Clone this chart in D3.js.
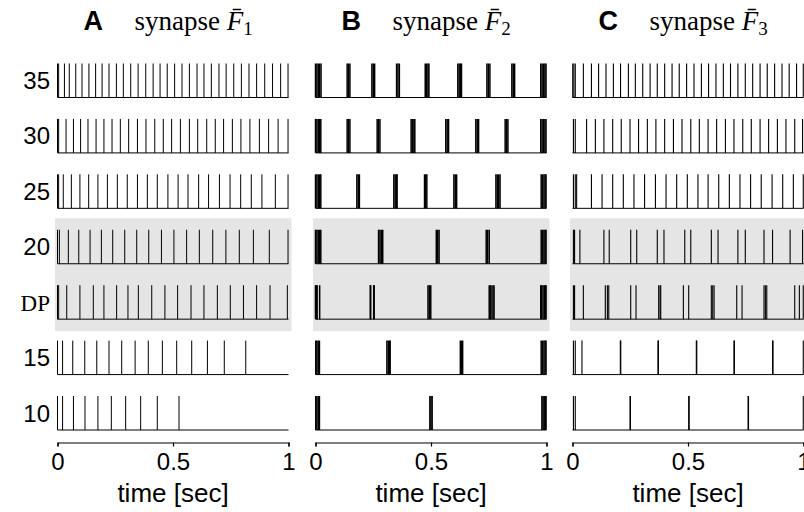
<!DOCTYPE html>
<html><head><meta charset="utf-8">
<script src="https://cdn.jsdelivr.net/npm/d3@7"></script>
<style>body{margin:0;background:#fff}svg{display:block}</style>
</head><body>
<svg id="c" width="804" height="512"></svg>
<script>
// ---------------- data ----------------
const rows = ["35","30","25","20","DP","15","10"];
const shadedRows = ["20","DP"];
const panelLetters = ["A","B","C"];
const synapseSubs = ["1","2","3"];
const tickValues = [0, 0.5, 1];
const tickLabels = ["0","0.5","1"];
const xLabel = "time [sec]";

// spike times [sec], synapse F1
const spikesA35 = [0,0.005,0.030,0.051,0.079,0.106,0.136,0.165,0.193,0.223,0.255,0.285,0.317,0.349,0.382,0.414,0.444,0.475,0.507,0.539,0.571,0.604,0.634,0.666,0.699,0.730,0.763,0.796,0.829,0.862,0.897,0.931,0.966,0.998];
const spikesA30 = [0,0.005,0.037,0.069,0.100,0.132,0.167,0.201,0.236,0.272,0.308,0.346,0.383,0.421,0.458,0.494,0.532,0.571,0.607,0.646,0.683,0.719,0.757,0.794,0.833,0.874,0.914,0.955,0.998];
const spikesA25 = [0,0.005,0.025,0.060,0.097,0.135,0.175,0.216,0.259,0.302,0.346,0.389,0.432,0.478,0.522,0.565,0.611,0.654,0.701,0.747,0.793,0.839,0.885,0.943,0.998];
const spikesA20 = [0,0.008,0.047,0.092,0.141,0.190,0.239,0.291,0.343,0.395,0.450,0.504,0.559,0.614,0.672,0.729,0.787,0.848,0.917,0.998];
const spikesADP = [0,0.005,0.040,0.097,0.155,0.201,0.256,0.305,0.350,0.408,0.465,0.520,0.578,0.634,0.692,0.748,0.805,0.862,0.920,0.995];
const spikesA15 = [0,0.022,0.066,0.118,0.170,0.223,0.278,0.336,0.393,0.454,0.516,0.581,0.649,0.722,0.815];
const spikesA10 = [0,0.022,0.069,0.119,0.175,0.233,0.295,0.360,0.432,0.526];

// synapse F2 (bursting)
const spikesB35 = [0,0.006,0.012,0.018,0.024, 0.137,0.143,0.149, 0.244,0.250,0.256, 0.351,0.357,0.363, 0.475,0.481,0.487,0.491, 0.616,0.622,0.628,0.632, 0.742,0.748,0.755, 0.850,0.856,0.862, 0.975,0.981,0.987,0.993,0.998];
const spikesB30 = [0,0.006,0.012,0.018,0.023, 0.137,0.143,0.149, 0.267,0.273,0.279, 0.414,0.420,0.426,0.430, 0.564,0.570,0.576, 0.694,0.700,0.706, 0.821,0.827,0.833, 0.975,0.981,0.987,0.993,0.998];
const spikesB25 = [0,0.006,0.012,0.018,0.023, 0.179,0.185,0.190, 0.339,0.345,0.351,0.353, 0.472,0.477,0.482, 0.599,0.605,0.611, 0.781,0.787,0.793,0.799, 0.977,0.983,0.989,0.994,0.998];
const spikesB20 = [0,0.006,0.012,0.018,0.023, 0.273,0.279,0.285,0.291, 0.523,0.529,0.535, 0.739,0.745,0.752, 0.977,0.983,0.989,0.994,0.998];
const spikesBDP = [0,0.004,0.007,0.018, 0.237,0.239,0.252,0.254, 0.487,0.493,0.499, 0.752,0.756,0.760,0.768,0.773, 0.975,0.979,0.985,0.991,0.995,0.998];
const spikesB15 = [0.001,0.006,0.012,0.017, 0.309,0.315,0.321,0.323, 0.627,0.632,0.637, 0.977,0.983,0.989,0.994,0.998];
const spikesB10 = [0.001,0.006,0.012,0.017, 0.495,0.500,0.505, 0.980,0.985,0.990,0.995,0.998];

// synapse F3
const spikesC35 = [0.001,0.006,0.012,0.047,0.082,0.113,0.145,0.177,0.208,0.242,0.272,0.304,0.336,0.367,0.399,0.431,0.462,0.494,0.526,0.558,0.589,0.621,0.653,0.684,0.716,0.748,0.780,0.812,0.843,0.875,0.907,0.938,0.970,0.999];
const spikesC30 = [0.004,0.012,0.061,0.099,0.136,0.174,0.211,0.249,0.286,0.324,0.361,0.399,0.437,0.474,0.512,0.549,0.587,0.624,0.662,0.699,0.737,0.774,0.812,0.849,0.887,0.924,0.962,0.996];
const spikesC25 = [0.004,0.012,0.018,0.082,0.128,0.174,0.220,0.266,0.312,0.359,0.405,0.451,0.497,0.543,0.587,0.633,0.679,0.725,0.771,0.817,0.864,0.910,0.956,0.999];
const spikesC20 = [0.004,0.009,0.032,0.136,0.159,0.252,0.278,0.367,0.396,0.486,0.512,0.601,0.630,0.716,0.748,0.829,0.866,0.942,0.996];
const spikesCDP = [0.004,0.009,0.047,0.142,0.151,0.157,0.252,0.275,0.373,0.379,0.382,0.480,0.503,0.601,0.607,0.613,0.711,0.734,0.829,0.835,0.841,0.962,0.982,0.999];
const spikesC15 = [0.004,0.012,0.041,0.207,0.209,0.370,0.372,0.536,0.538,0.699,0.701,0.866,0.868,0.999];
const spikesC10 = [0.004,0.012,0.249,0.251,0.503,0.505,0.760,0.762,0.999];

const panelSpikes = [
  {"35":spikesA35,"30":spikesA30,"25":spikesA25,"20":spikesA20,"DP":spikesADP,"15":spikesA15,"10":spikesA10},
  {"35":spikesB35,"30":spikesB30,"25":spikesB25,"20":spikesB20,"DP":spikesBDP,"15":spikesB15,"10":spikesB10},
  {"35":spikesC35,"30":spikesC30,"25":spikesC25,"20":spikesC20,"DP":spikesCDP,"15":spikesC15,"10":spikesC10}
];

// ---------------- layout ----------------
const SANS = "'Liberation Sans', Arial, Helvetica, sans-serif";
const SERIF = "'Liberation Serif', 'Times New Roman', Times, serif";
const panelX0 = [57.5, 315.5, 572.5];
const panelW = 231;
const spikeH = 34;
const axisY = 442.5;
const spikeStroke = [1, 1.5, 1.1];

const svg = d3.select("#c");
const y = d3.scalePoint().domain(rows).range([97.5, 430]);

// row labels
svg.append("g").selectAll("text").data(rows).join("text")
  .attr("x", 50).attr("y", d => y(d) - spikeH/2 + 8.5)
  .attr("text-anchor", "end")
  .attr("font-family", d => d === "DP" ? SERIF : SANS)
  .attr("font-size", d => d === "DP" ? 23 : 24)
  .attr("fill", "#000")
  .text(d => d);

panelLetters.forEach((letter, i) => {
  const x = d3.scaleLinear().domain([0, 1]).range([panelX0[i], panelX0[i] + panelW]);
  const g = svg.append("g");

  // shaded band
  g.append("rect")
    .attr("x", x(0) - 2.5).attr("width", x(1) - x(0) + 5.5)
    .attr("y", y(shadedRows[0]) - 45.5)
    .attr("height", y(shadedRows[1]) - y(shadedRows[0]) + 45.5 + 12)
    .attr("fill", "#e5e5e5");

  rows.forEach(r => {
    // baseline
    g.append("line")
      .attr("x1", x(0)).attr("x2", x(1))
      .attr("y1", y(r)).attr("y2", y(r))
      .attr("stroke", "#000").attr("stroke-width", 1);
    // spikes
    g.append("g").selectAll("line").data(panelSpikes[i][r]).join("line")
      .attr("x1", d => x(d)).attr("x2", d => x(d))
      .attr("y1", y(r)).attr("y2", y(r) - spikeH)
      .attr("stroke", "#000").attr("stroke-width", spikeStroke[i]);
  });

  // axis
  const ax = g.append("g").attr("transform", `translate(0,${axisY})`)
    .call(d3.axisBottom(x).tickValues(tickValues)
      .tickFormat((d, k) => tickLabels[k]).tickSize(4).tickPadding(6));
  ax.select(".domain").attr("stroke", "#000").attr("stroke-width", 1.2);
  ax.selectAll(".tick line").attr("stroke", "#000").attr("stroke-width", 1.2);
  ax.selectAll(".tick text").attr("font-family", SANS).attr("font-size", 24).attr("fill", "#000");

  // x label
  g.append("text")
    .attr("x", x(0.5)).attr("y", 502)
    .attr("text-anchor", "middle")
    .attr("font-family", SANS).attr("font-size", 26).attr("fill", "#000")
    .text(xLabel);

  // title
  g.append("text")
    .attr("x", x(0) + 26).attr("y", 30)
    .attr("font-family", SANS).attr("font-weight", "bold").attr("font-size", 27)
    .text(letter);
  const t = g.append("text")
    .attr("x", x(0) + 77).attr("y", 30)
    .attr("font-family", SERIF).attr("font-size", 27);
  t.append("tspan").text("synapse ");
  t.append("tspan").attr("font-style", "italic").text("F\u0304");
  t.append("tspan").attr("font-size", 19).attr("dy", 5).text(synapseSubs[i]);
});
</script>
</body></html>
